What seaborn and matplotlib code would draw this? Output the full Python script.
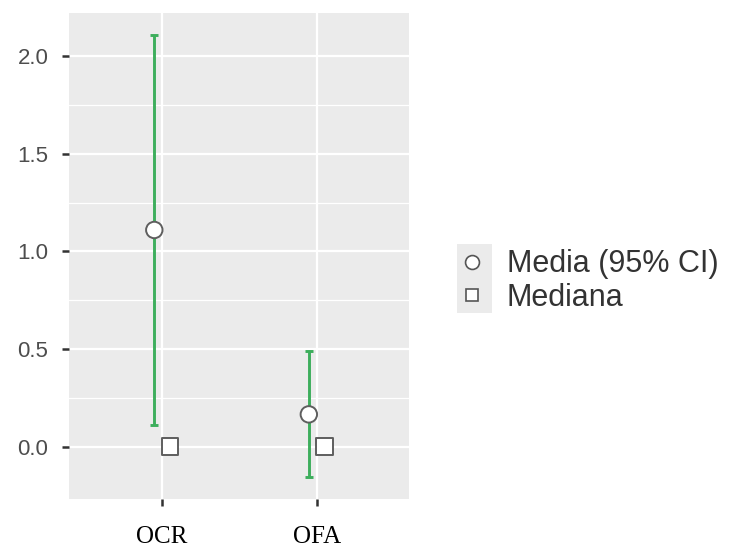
import numpy as np
import pandas as pd
import matplotlib.pyplot as plt
import seaborn as sns
from matplotlib.lines import Line2D
from matplotlib.patches import Rectangle

# valores
grupos = ['OCR', 'OFA']
media = [1.11, 0.165]
ic_inf = [0.11, -0.157]
ic_sup = [2.11, 0.49]
mediana = [0.0, 0.0]
rotulos = ['Media (95% CI)', 'Mediana']

sns.set_style('darkgrid', {'axes.facecolor': '#ebebeb', 'grid.color': 'white'})
plt.rcParams['font.family'] = ['Liberation Sans', 'DejaVu Sans']

pos = np.arange(len(grupos))
desloc = 0.05
dados = pd.DataFrame({
    'pos': np.concatenate([pos - desloc, pos + desloc]),
    'valor': media + mediana,
    'estat': [rotulos[0]] * len(grupos) + [rotulos[1]] * len(grupos),
})

fig = plt.figure(figsize=(7.31, 5.51), dpi=100)
ax = fig.add_axes([0.0948, 0.0938, 0.4651, 0.8831])

# barras de erro (IC 95%)
m = np.array(media)
ax.errorbar(pos - desloc, m, yerr=[m - np.array(ic_inf), np.array(ic_sup) - m],
            fmt='none', ecolor='#3dae5c', elinewidth=2.1, capsize=2.8,
            capthick=2.1, zorder=2)

sns.scatterplot(data=dados, x='pos', y='valor', style='estat',
                markers={rotulos[0]: 'o', rotulos[1]: 's'},
                s=140, facecolor='white', edgecolor='#5e5e5e', linewidth=1.4,
                legend=False, ax=ax, zorder=3)

lo = min(ic_inf + mediana)
hi = max(ic_sup + media)
pad = 0.05 * (hi - lo)
ax.set_ylim(lo - pad, hi + pad)
ax.set_xlim(-0.6, len(grupos) - 0.4)

ax.set_xticks(pos)
ax.set_xticklabels(grupos, family='Liberation Serif', fontsize=18, color='black')
ax.set_yticks([0, 0.5, 1.0, 1.5, 2.0])
ax.set_yticklabels(['0.0', '0.5', '1.0', '1.5', '2.0'], fontsize=16, color='#4d4d4d')
ax.set_yticks([0.25, 0.75, 1.25, 1.75], minor=True)
ax.grid(which='major', color='white', linewidth=1.6)
ax.grid(which='minor', axis='y', color='white', linewidth=0.9)
ax.tick_params(axis='y', which='major', length=5, width=1.8, color='#333333', left=True, pad=10)
ax.tick_params(axis='y', which='minor', length=0)
ax.tick_params(axis='x', length=5, width=1.8, color='#333333', bottom=True, pad=14)
ax.set_xlabel('')
ax.set_ylabel('')
for s in ax.spines.values():
    s.set_visible(False)

# legenda
fig.patches.append(Rectangle((457 / 731, 1 - 313 / 551), 35 / 731, 69 / 551,
                             transform=fig.transFigure, facecolor='#ebebeb',
                             edgecolor='none', zorder=0))
handles = [
    Line2D([], [], marker='o', linestyle='', markersize=10, markerfacecolor='white',
           markeredgecolor='#555555', markeredgewidth=1.2),
    Line2D([], [], marker='s', linestyle='', markersize=9, markerfacecolor='white',
           markeredgecolor='#555555', markeredgewidth=1.2),
]
fig.legend(handles, rotulos, loc='center left', bbox_to_anchor=(457 / 731, 1 - 281 / 551),
           frameon=False, fontsize=22, handlelength=1.0, handletextpad=0.63,
           labelspacing=0.1, borderpad=0, borderaxespad=0, labelcolor='#333333')

fig.savefig('out.png', dpi=100)
